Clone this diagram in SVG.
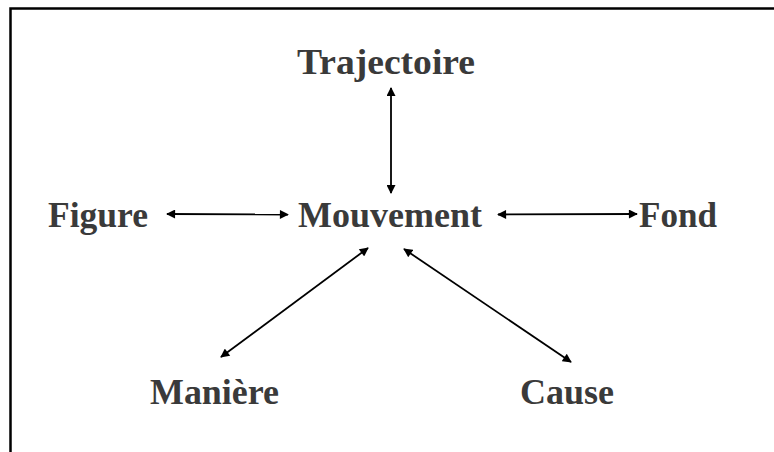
<svg xmlns="http://www.w3.org/2000/svg" width="774" height="452" viewBox="0 0 774 452">
<style>
.lbl{font-family:"Liberation Serif","Times New Roman",serif;font-weight:bold;font-size:35.5px;fill:#3a3a3a}
.con{stroke:#000;stroke-width:1.8;fill:none;marker-start:url(#ah);marker-end:url(#ah)}
</style>
<defs>
<marker id="ah" viewBox="0 0 10 10" refX="9" refY="5" markerWidth="5.5" markerHeight="5" orient="auto-start-reverse" markerUnits="strokeWidth">
<path d="M0,0 L10,5 L0,10 z" fill="#000"/>
</marker>
</defs>
<rect width="774" height="452" fill="#fff"/>
<g id="frame" stroke="#000" stroke-width="2.5" fill="none">
<path d="M10.5,452 V8.5 H774"/>
</g>
<g id="connectors">
<line class="con" x1="391" y1="88" x2="391" y2="193"/>
<line class="con" x1="167" y1="214" x2="288" y2="214.5"/>
<line class="con" x1="498" y1="214.5" x2="637" y2="214"/>
<line class="con" x1="368" y1="248" x2="221" y2="357"/>
<line class="con" x1="404" y1="249" x2="571" y2="362"/>
</g>
<g id="trajectoire"><text class="lbl" x="297" y="73.5" textLength="178" lengthAdjust="spacingAndGlyphs">Trajectoire</text></g>
<g id="figure"><text class="lbl" x="48" y="226.5" textLength="100" lengthAdjust="spacingAndGlyphs">Figure</text></g>
<g id="mouvement"><text class="lbl" x="298" y="226.5" textLength="184" lengthAdjust="spacingAndGlyphs">Mouvement</text></g>
<g id="fond"><text class="lbl" x="639" y="226.5" textLength="78" lengthAdjust="spacingAndGlyphs">Fond</text></g>
<g id="maniere"><text class="lbl" x="150" y="403.5" textLength="129" lengthAdjust="spacingAndGlyphs">Manière</text></g>
<g id="cause"><text class="lbl" x="520" y="403.5" textLength="94" lengthAdjust="spacingAndGlyphs">Cause</text></g>
</svg>
